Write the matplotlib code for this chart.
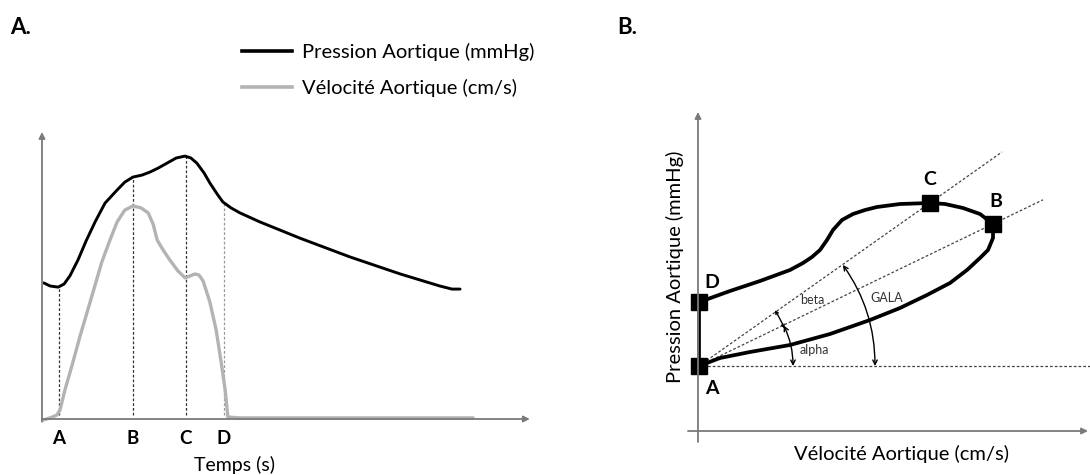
import matplotlib
matplotlib.use("Agg")
import matplotlib.pyplot as plt
from matplotlib.lines import Line2D

plt.rcParams['font.family'] = ['Lato', 'DejaVu Sans']

# ---- panel A : courbes en fonction du temps (unites arbitraires) ----
t_pression = [0.4, 1.8, 3.6, 4.9, 6.2, 8.0, 9.8, 11.8, 14.0, 16.7, 18.4, 20.2,
              22.2, 24.0, 25.8, 27.8, 29.8, 31.8, 33.1, 34.4, 36.0, 37.3, 38.9,
              40.2, 42.0, 44.0, 48.4, 57.3, 68.4, 79.6, 88.4, 91.1, 92.9]
pression = [48.6, 47.5, 47.1, 48.2, 51.1, 56.8, 63.6, 70.4, 77.1, 81.8, 84.6, 86.4,
            87.1, 88.2, 89.6, 91.4, 93.2, 93.9, 93.2, 91.4, 87.9, 84.3, 80.4,
            77.5, 75.4, 73.6, 70.4, 64.6, 57.9, 51.8, 47.5, 46.4, 46.4]

t_velocite = [0.2, 1.8, 3.3, 4.0, 5.1, 6.7, 8.4, 10.7, 13.3, 15.1, 16.7, 18.4,
              20.2, 22.0, 23.6, 24.7, 25.6, 26.9, 28.4, 30.2, 31.8, 32.9, 34.0,
              34.9, 35.8, 37.3, 38.7, 39.8, 40.7, 41.3, 44.0, 95.8]
velocite = [-0.4, 0.4, 1.4, 3.2, 10.4, 19.3, 29.3, 41.8, 56.1, 63.9, 70.4, 74.6,
            76.1, 75.4, 73.6, 69.6, 63.9, 60.4, 56.8, 52.9, 50.4, 51.1, 51.8,
            51.4, 49.3, 41.8, 31.8, 20.4, 10.4, 0.7, 0.4, 0.4]

evenements = ['A', 'B', 'C', 'D']
t_evenements = [3.8, 20.2, 32.0, 40.4]
p_evenements = [47.1, 86.4, 93.9, 77.5]

# ---- panel B : boucle pression-velocite ----
boucle_v = [0.25, 5.5, 13.0, 23.0, 33.0, 43.0, 50.5, 57.25, 63.0, 67.25, 70.5, 72.5,
            73.75, 73.75, 70.5, 66.25, 61.75, 58.0, 50.5, 44.75, 41.75, 38.75,
            36.0, 33.75, 32.25, 30.5, 28.5, 26.25, 23.0, 15.5, 8.0, 1.75, 0.25, 0.25]
boucle_p = [16.25, 18.25, 19.75, 21.5, 24.25, 27.75, 30.75, 34.0, 37.0, 40.25, 43.25,
            45.25, 48.25, 51.75, 54.25, 55.75, 56.75, 57.0, 56.75, 56.0, 55.25, 54.25,
            52.75, 50.25, 47.75, 45.25, 43.5, 42.0, 40.25, 37.5, 35.0, 32.75, 32.25,
            16.25]

points_noms = ['A', 'B', 'C', 'D']
points_v = [0.25, 73.75, 58.0, 0.25]
points_p = [16.25, 51.75, 57.0, 32.25]
decalages = [(9, -16), (2, 16), (0, 17), (9, 14)]

W, H = 1090, 475


def boite(x0, y0, x1, y1):
    return [x0 / W, 1 - y1 / H, (x1 - x0) / W, (y1 - y0) / H]


fig = plt.figure(figsize=(W / 100, H / 100), dpi=100)

axe_gris = '#7a7a7a'
fleche = dict(arrowstyle='-|>', color=axe_gris, lw=1.3, mutation_scale=9,
              shrinkA=0, shrinkB=0)

# ================= panel A =================
ax = fig.add_axes(boite(37.5, 127.8, 537, 424.6))
ax.set_xlim(-1, 110)
ax.set_ylim(-2, 104)
for s in ax.spines.values():
    s.set_visible(False)

ax.annotate('', xy=(108.4, 0), xytext=(0, 0), arrowprops=fleche)
ax.annotate('', xy=(0, 102.5), xytext=(0, -1), arrowprops=fleche)

couleurs_pointilles = ['#333333', '#333333', '#333333', '#999999']
for t, p, c in zip(t_evenements, p_evenements, couleurs_pointilles):
    ax.plot([t, t], [1.5, p], ls=(0, (2.2, 1.6)), lw=0.9, color=c)

ax.plot(t_velocite, velocite, color='#b3b3b3', lw=2.4, solid_capstyle='round')
ax.plot(t_pression, pression, color='black', lw=2.1, solid_capstyle='round')

ax.set_xticks(t_evenements)
ax.set_xticklabels(evenements, fontsize=13.5, fontweight='bold')
ax.tick_params(axis='x', length=0, pad=4)
ax.set_yticks([])
ax.set_xlabel('Temps (s)', fontsize=14)
ax.xaxis.set_label_coords((235 - 37.5) / (537 - 37.5), -0.105)

poignees = [Line2D([], [], color='black', lw=2.6),
            Line2D([], [], color='#b3b3b3', lw=2.6)]
fig.legend(poignees, ['Pression Aortique (mmHg)', 'Vélocité Aortique (cm/s)'],
           loc='upper left', bbox_to_anchor=(232 / W, 1 - 33 / H),
           frameon=False, fontsize=14.5, handlelength=2.5, handletextpad=0.5,
           labelspacing=0.88, borderpad=0)

# ================= panel B =================
bx = fig.add_axes(boite(686, 111, 1092, 443))
bx.set_xlim(-3, 98.5)
bx.set_ylim(-3, 80)
for s in bx.spines.values():
    s.set_visible(False)
bx.set_xticks([])
bx.set_yticks([])

bx.annotate('', xy=(97.5, 0), xytext=(-2.5, 0), arrowprops=fleche)
bx.annotate('', xy=(0, 79.75), xytext=(0, -2.75), arrowprops=fleche)

pointille = dict(ls=(0, (2.2, 1.6)), lw=0.9, color='#444444')
bx.plot([0, 98.5], [points_p[0], points_p[0]], **pointille)
bx.plot([points_v[0], 76.0], [points_p[0], 69.75], **pointille)
bx.plot([points_v[0], 86.25], [points_p[0], 57.8], **pointille)

bx.plot(boucle_v, boucle_p, color='black', lw=2.7, solid_joinstyle='round')
bx.plot(points_v, points_p, ls='none', marker='s', ms=11.5, color='black')

for nom, v, p, d in zip(points_noms, points_v, points_p, decalages):
    bx.annotate(nom, (v, p), xytext=d, textcoords='offset points',
                ha='center', va='center', fontsize=14, fontweight='bold')

arc = dict(arrowstyle='<->', color='black', lw=1.0, mutation_scale=8,
           shrinkA=0, shrinkB=0)
# alpha
bx.annotate('', xy=(21.42, 26.39), xytext=(23.75, 16.25),
            arrowprops=dict(arc, connectionstyle='arc3,rad=0.115'))
# beta
bx.annotate('', xy=(19.2, 30.2), xytext=(21.6, 25.6),
            arrowprops=dict(arc, connectionstyle='arc3,rad=0.05', mutation_scale=5))
# GALA
bx.annotate('', xy=(36.21, 41.53), xytext=(44.25, 16.25),
            arrowprops=dict(arc, connectionstyle='arc3,rad=0.159'))

bx.text(25.5, 20.25, 'alpha', fontsize=9, color='#333333', va='center')
bx.text(25.5, 32.75, 'beta', fontsize=9, color='#333333', va='center')
bx.text(43.0, 33.25, 'GALA', fontsize=9, color='#333333', va='center')

bx.set_xlabel('Vélocité Aortique (cm/s)', fontsize=14.5)
bx.xaxis.set_label_coords((902 - 686) / (1092 - 686), -0.005)
bx.set_ylabel('Pression Aortique (mmHg)', fontsize=14.5)
bx.yaxis.set_label_coords((684 - 686) / (1092 - 686), (443 - 267) / (443 - 111))

fig.text(10 / W, 1 - 28 / H, 'A.', fontsize=16, fontweight='bold', va='center')
fig.text(617 / W, 1 - 28 / H, 'B.', fontsize=16, fontweight='bold', va='center')

fig.savefig('out.png', dpi=100)
